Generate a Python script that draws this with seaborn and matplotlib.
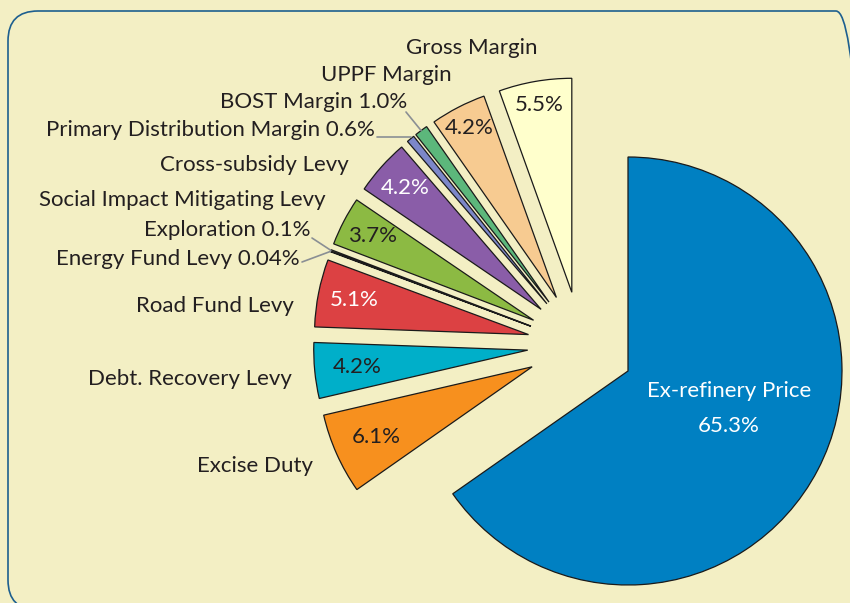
import numpy as np
import matplotlib
matplotlib.use("Agg")
import matplotlib.pyplot as plt
from matplotlib.patches import FancyBboxPatch
import seaborn as sns

# Price build-up shares (%)
labels = ["Ex-refinery Price", "Excise Duty", "Debt. Recovery Levy", "Road Fund Levy",
          "Energy Fund Levy", "Exploration", "Social Impact Mitigating Levy",
          "Cross-subsidy Levy", "Primary Distribution Margin", "BOST Margin",
          "UPPF Margin", "Gross Margin"]
shares = [65.3, 6.1, 4.2, 5.1, 0.04, 0.1, 3.7, 4.2, 0.6, 1.0, 4.2, 5.5]
pct_text = ["65.3%", "6.1%", "4.2%", "5.1%", "0.04%", "0.1%", "3.7%", "4.2%",
            "0.6%", "1.0%", "4.2%", "5.5%"]
colors = ["#0080c2", "#f7901e", "#00afc9", "#dc4143", "#231f20", "#f3efc4",
          "#8cba43", "#8a5da8", "#7c87c9", "#5cb77b", "#f7cb91", "#ffffcc"]

sns.set_theme(style="white")
plt.rcParams['font.family'] = ['Lato', 'DejaVu Sans']

W, H = 850, 603
R = 214.0          # pie radius in px
cx, cy = 628, 371  # pie centre in px
bg = "#f3efc4"
ink = "#231f20"
fs = 16

fig = plt.figure(figsize=(W / 100, H / 100), dpi=100, facecolor=bg)
ax = fig.add_axes([0, 0, 1, 1])
ax.set_facecolor(bg)

# rounded frame, in inches so the corners stay round; runs off bottom/right
frame = FancyBboxPatch((0.08, -0.07), 8.58, 5.99,
                       boxstyle="round,pad=0,rounding_size=0.3",
                       transform=fig.dpi_scale_trans, facecolor="none",
                       edgecolor="#1d5f8f", linewidth=1.2, zorder=0)
fig.patches.append(frame)

explode = [0] + [0.25] * (len(shares) - 1)
wedges, _ = ax.pie(shares, colors=colors, explode=explode, startangle=90,
                   counterclock=False, radius=1,
                   wedgeprops=dict(edgecolor="#1a1a1a", linewidth=0.9))
# the small slices are pulled away as a group
shift = np.array([-47 / R, 26 / R])
for w in wedges[1:]:
    w.set_center(tuple(np.array(w.center) + shift))

ax.set_xlim(-cx / R, (W - cx) / R)
ax.set_ylim(-(H - cy) / R, cy / R)
ax.set_aspect("equal", adjustable="box")
ax.axis("off")


def wedge_point(w, frac):
    ang = np.deg2rad((w.theta1 + w.theta2) / 2)
    return (w.center[0] + frac * w.r * np.cos(ang),
            w.center[1] + frac * w.r * np.sin(ang))


# percentages inside slices
inside = {1: (0.80, ink), 2: (0.80, ink), 3: (0.83, "white"), 6: (0.85, ink),
          7: (0.85, "white"), 10: (0.89, ink), 11: (0.89, ink)}
for i, (frac, col) in inside.items():
    x, y = wedge_point(wedges[i], frac)
    ax.text(x, y, pct_text[i], ha="center", va="center", fontsize=fs, color=col)

# main slice label
x, y = wedge_point(wedges[0], 0.0)
ax.text(x + 101 / R, y - 20 / R, labels[0], ha="center", va="center",
        fontsize=fs, color="white")
ax.text(x + 101 / R, y - 55 / R, pct_text[0], ha="center", va="center",
        fontsize=fs, color="white")


def px(x, y):
    return ((x - cx) / R, (cy - y) / R)


# outer labels: (index, text, right edge px, centre y px)
outer = [
    (11, "Gross Margin", 537, 48),
    (10, "UPPF Margin", 452, 75),
    (9, "BOST Margin 1.0%", 407, 102),
    (8, "Primary Distribution Margin 0.6%", 375, 130),
    (7, "Cross-subsidy Levy", 349, 165),
    (6, "Social Impact Mitigating Levy", 326, 200),
    (5, "Exploration 0.1%", 310, 230),
    (4, "Energy Fund Levy 0.04%", 300, 259),
    (3, "Road Fund Levy", 294, 306),
    (2, "Debt. Recovery Levy", 292, 379),
    (1, "Excise Duty", 313, 466),
]
for i, txt, xr, yc in outer:
    ax.text(*px(xr, yc), txt, ha="right", va="center", fontsize=fs, color=ink)

# leader lines for the thin slices
leaders = {9: (406, 112), 8: (377, 137), 5: (312, 238), 4: (302, 262)}
for i, (lx, ly) in leaders.items():
    end = wedge_point(wedges[i], 1.0)
    start = px(lx, ly)
    if i == 8:
        end = (end[0], start[1])
    ax.plot([start[0], end[0]], [start[1], end[1]], color="#8a8f94", lw=1.2)

fig.savefig("out.png", dpi=100, facecolor=bg)
